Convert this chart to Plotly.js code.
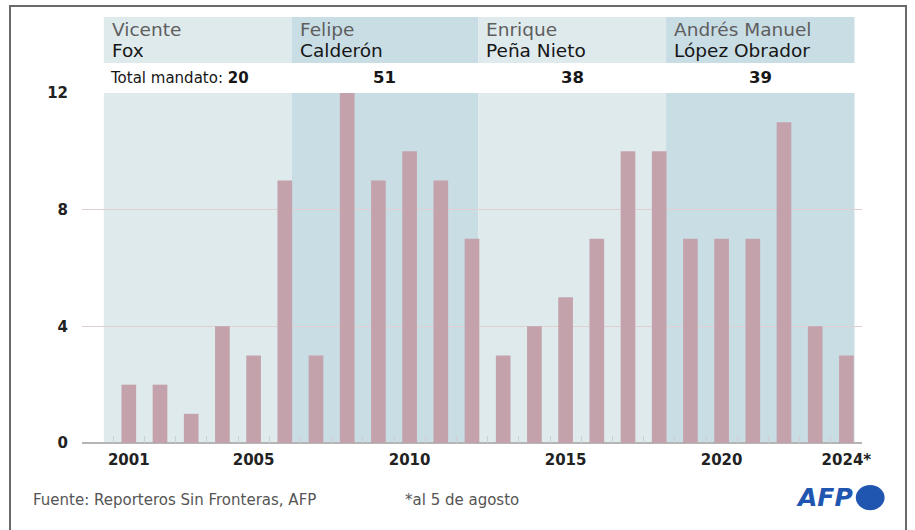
<!DOCTYPE html>
<html>
<head>
<meta charset="utf-8">
<script src="https://cdn.plot.ly/plotly-3.0.1.min.js"></script>
<style>
html,body{margin:0;padding:0;background:#fff;}
#chart{width:915px;height:530px;}
</style>
</head>
<body>
<div id="chart"></div>
<script>
// Data
const years = [2001,2002,2003,2004,2005,2006,2007,2008,2009,2010,2011,2012,2013,2014,2015,2016,2017,2018,2019,2020,2021,2022,2023,2024];
const killed = [2,2,1,4,3,9,3,12,9,10,9,7,3,4,5,7,10,10,7,7,7,11,4,3];
const tickYears = [2001,2005,2010,2015,2020,2024];
const tickLabels = ['2001','2005','2010','2015','2020','2024*'];
const presFirst = ['Vicente','Felipe','Enrique','Andrés Manuel'];
const presLast = ['Fox','Calderón','Peña Nieto','López Obrador'];
const termTotals = [20,51,38,39];
const termStart = [2000.2,2006.22,2012.2,2018.22];
const termEnd = [2006.22,2012.2,2018.22,2024.26];

const FONT = 'DejaVu Sans, Verdana, sans-serif';
const bandColors = ['#dfeaed','#c9dde5','#dfeaed','#c9dde5'];

const shapes = [];
const annotations = [];
for (let i = 0; i < presFirst.length; i++) {
  shapes.push({type:'rect', layer:'below', xref:'x', yref:'paper',
    x0:termStart[i], x1:termEnd[i], y0:0, y1:1,
    fillcolor:bandColors[i], line:{width:0}});
  shapes.push({type:'rect', layer:'below', xref:'x', yref:'paper',
    x0:termStart[i], x1:termEnd[i], y0:1.086, y1:1.217,
    fillcolor:bandColors[i], line:{width:0}});
  annotations.push({xref:'x', yref:'paper', x:termStart[i], xshift:6, y:1.181,
    xanchor:'left', yanchor:'middle', showarrow:false, text:presFirst[i],
    font:{family:FONT, size:18.5, color:'#5e5e5e'}});
  annotations.push({xref:'x', yref:'paper', x:termStart[i], xshift:6, y:1.122,
    xanchor:'left', yanchor:'middle', showarrow:false, text:presLast[i],
    font:{family:FONT, size:18.5, color:'#161616'}});
  if (i === 0) {
    annotations.push({xref:'x', yref:'paper', x:termStart[i], xshift:4, y:1.043,
      xanchor:'left', yanchor:'middle', showarrow:false,
      text:'Total mandato: <b>' + termTotals[i] + '</b>',
      font:{family:FONT, size:15, color:'#161616'}});
  } else {
    annotations.push({xref:'x', yref:'paper', x:(termStart[i]+termEnd[i])/2, y:1.043,
      xanchor:'center', yanchor:'middle', showarrow:false,
      text:'<b>' + termTotals[i] + '</b>',
      font:{family:FONT, size:16.5, color:'#161616'}});
  }
}

// frame
shapes.push({type:'rect', xref:'paper', yref:'paper', x0:-0.0923, x1:1.0564, y0:-0.3, y1:1.2486,
  line:{color:'#6a6a6a', width:2}, fillcolor:'rgba(0,0,0,0)', layer:'above'});
// AFP logo circle
shapes.push({type:'circle', xref:'paper', yref:'paper', x0:0.9920, x1:1.0290, y0:-0.192, y1:-0.120,
  fillcolor:'#2156b0', line:{width:0}});

annotations.push({xref:'paper', yref:'paper', x:-0.066, y:-0.164, xanchor:'left', yanchor:'middle',
  showarrow:false, text:'Fuente: Reporteros Sin Fronteras, AFP',
  font:{family:FONT, size:15, color:'#555'}});
annotations.push({xref:'paper', yref:'paper', x:0.411, y:-0.164, xanchor:'left', yanchor:'middle',
  showarrow:false, text:'*al 5 de agosto',
  font:{family:FONT, size:15, color:'#555'}});
annotations.push({xref:'paper', yref:'paper', x:0.992, xshift:-1, y:-0.155, xanchor:'right', yanchor:'middle',
  showarrow:false, text:'<b><i>AFP</i></b>',
  font:{family:FONT, size:25, color:'#2156b0'}});

const data = [
  {type:'bar', x:years, y:killed, marker:{color:'#c4a2ac', line:{width:0}},
   hoverinfo:'x+y', xaxis:'x', yaxis:'y'},
  {type:'scatter', x:years.map(function(y){return y+0.5;}), y:killed.map(function(){return null;}),
   xaxis:'x2', yaxis:'y', hoverinfo:'skip', showlegend:false, mode:'markers'}
];

const layout = {
  width:915, height:530,
  margin:{l:82, r:53, t:93, b:87},
  paper_bgcolor:'#ffffff', plot_bgcolor:'rgba(0,0,0,0)',
  showlegend:false,
  bargap:0.53,
  xaxis:{range:[1999.5,2024.5], tickvals:tickYears, ticktext:tickLabels, showgrid:false,
    zeroline:false, showline:false, ticks:'', ticklabelstandoff:6,
    tickfont:{family:FONT, size:15, color:'#222', weight:'bold'}, fixedrange:true},
  xaxis2:{overlaying:'x', anchor:'y', side:'bottom', range:[1999.5,2024.5],
    tickvals:years.map(function(y){return y+0.5;}).concat([2000.5]), ticks:'inside', ticklen:7, tickwidth:1,
    tickcolor:'#cfcfcf', showticklabels:false, showgrid:false, zeroline:false, showline:false},
  yaxis:{range:[0,12], tickvals:[0,4,8,12], showgrid:true, gridcolor:'#e2cfd2', gridwidth:1,
    zeroline:true, zerolinecolor:'#b5b5b5', zerolinewidth:1.5, showline:false, ticks:'',
    ticklabelstandoff:13,
    tickfont:{family:FONT, size:15, color:'#222', weight:'bold'}, fixedrange:true},
  shapes:shapes,
  annotations:annotations
};

Plotly.newPlot('chart', data, layout, {displayModeBar:false, staticPlot:true});
</script>
</body>
</html>
